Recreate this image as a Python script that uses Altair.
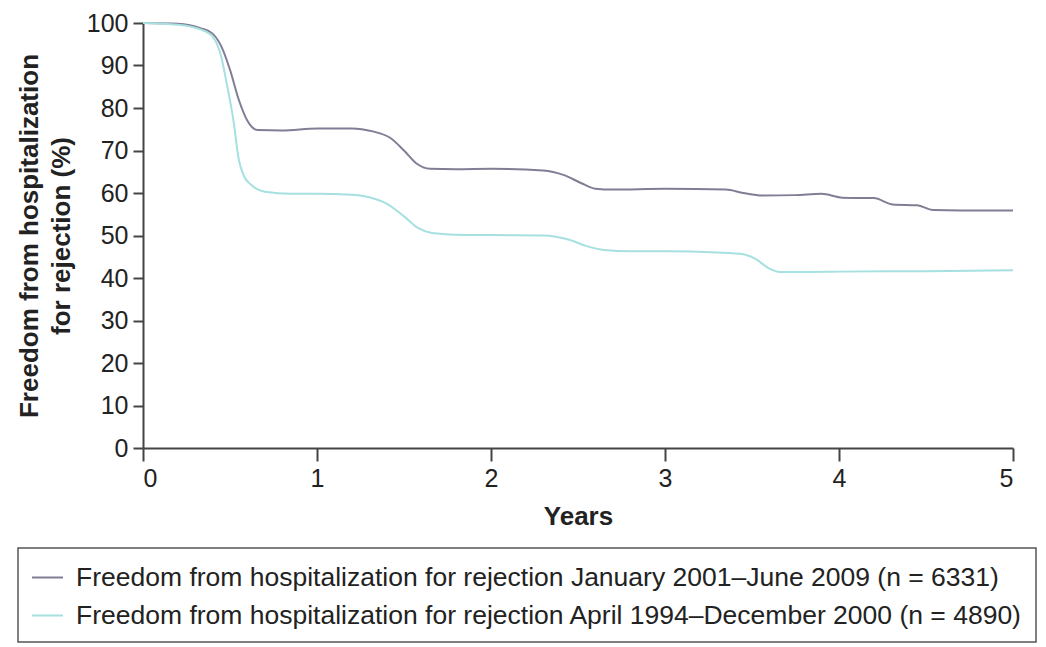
import altair as alt
import pandas as pd

series_names = [
    "Freedom from hospitalization for rejection January 2001\u2013June 2009 (n = 6331)",
    "Freedom from hospitalization for rejection April 1994\u2013December 2000 (n = 4890)",
]
series_colors = ["#817d95", "#a6e0e0"]

years_a = [0, 0.2, 0.33, 0.4, 0.45, 0.5, 0.55, 0.6, 0.66, 0.8, 1.0, 1.2, 1.32, 1.42,
           1.5, 1.57, 1.65, 1.8, 2.0, 2.3, 2.42, 2.52, 2.6, 2.7, 3.0, 3.35, 3.45,
           3.56, 3.75, 3.9, 4.02, 4.2, 4.31, 4.45, 4.54, 4.7, 5.0]
values_a = [100, 99.8, 98.8, 97.5, 94.5, 89, 82, 77, 74.8, 74.7, 75.2, 75.2, 74.5, 73,
            70, 67, 65.7, 65.6, 65.7, 65.3, 64.2, 62.3, 61, 60.8, 61, 60.8, 60,
            59.4, 59.5, 59.8, 58.9, 58.8, 57.3, 57.1, 56.0, 55.9, 55.9]

years_b = [0, 0.2, 0.33, 0.4, 0.45, 0.48, 0.52, 0.55, 0.58, 0.62, 0.7, 0.85, 1.0, 1.2,
           1.3, 1.4, 1.5, 1.58, 1.66, 1.8, 2.0, 2.3, 2.45, 2.55, 2.65, 2.8, 3.0, 3.3,
           3.45, 3.52, 3.6, 3.66, 3.8, 4.0, 4.5, 5.0]
values_b = [100, 99.6, 98.5, 96.8, 92, 86, 77, 68, 64, 62, 60.3, 59.8, 59.8, 59.6,
            59, 57.5, 54.5, 51.8, 50.6, 50.2, 50.1, 50, 49, 47.5, 46.6, 46.3, 46.3, 46,
            45.6, 44.5, 42.2, 41.4, 41.4, 41.5, 41.6, 41.8]

x_ticks = [0, 1, 2, 3, 4, 5]
y_ticks = [0, 10, 20, 30, 40, 50, 60, 70, 80, 90, 100]

df = pd.concat([
    pd.DataFrame({"year": years_a, "value": values_a, "series": series_names[0], "order": 0}),
    pd.DataFrame({"year": years_b, "value": values_b, "series": series_names[1], "order": 1}),
])

FONT = "Liberation Sans"
AX = "#444444"

chart = alt.Chart(df).mark_line(interpolate="monotone", strokeWidth=2).encode(
    x=alt.X("year:Q",
            scale=alt.Scale(domain=[0, 5], nice=False),
            axis=alt.Axis(values=x_ticks, title="Years", format="d",
                          tickSize=13, labelPadding=5, titlePadding=12)),
    y=alt.Y("value:Q",
            scale=alt.Scale(domain=[0, 100], nice=False),
            axis=alt.Axis(values=y_ticks,
                          title=["Freedom from hospitalization", "for rejection (%)"],
                          tickSize=10, labelPadding=5, titlePadding=12,
                          titleLineHeight=32)),
    color=alt.Color("series:N",
                    scale=alt.Scale(domain=series_names, range=series_colors),
                    legend=alt.Legend(orient="none", legendX=-125, legendY=525,
                                      title=None, direction="vertical",
                                      symbolType="stroke", symbolSize=961,
                                      symbolStrokeWidth=2, labelFontSize=26.5,
                                      labelFont=FONT, labelColor="#222222",
                                      labelLimit=0, labelOffset=12,
                                      rowPadding=8, padding=13,
                                      strokeColor="#555555")),
    detail="order:O",
).properties(
    width=870, height=425,
    background="white",
    autosize=alt.AutoSizeParams(type="none"),
    padding={"left": 135, "top": 15, "right": 25, "bottom": 196},
).configure_view(stroke=None).configure_axis(
    grid=False, domainColor=AX, domainWidth=2, tickColor=AX, tickWidth=2,
    labelFont=FONT, labelFontSize=25, labelColor="#222222",
    titleFont=FONT, titleFontSize=26, titleFontWeight="bold", titleColor="#222222",
).configure_legend(strokeWidth=1.5)

chart.save("out.html", embed_options={"renderer": "svg", "actions": False})
